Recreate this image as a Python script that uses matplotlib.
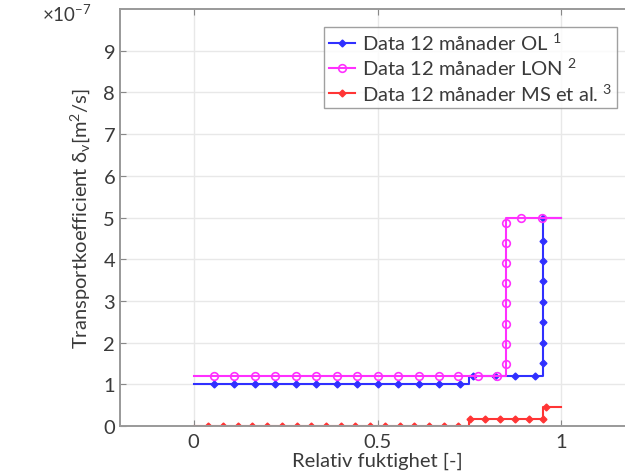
import matplotlib
matplotlib.use("Agg")
import matplotlib.pyplot as plt
from matplotlib.lines import Line2D

# ----- data (values in units of 1e-7 m2/s) -----
OL_X = [0, 0.75, 0.75, 0.95, 0.95, 1.0]
OL_Y = [1.0, 1.0, 1.2, 1.2, 5.0, 5.0]
OL_MX = [0.056, 0.111, 0.167, 0.222, 0.278, 0.334, 0.390, 0.445, 0.501, 0.557,
         0.612, 0.668, 0.724, 0.76, 0.819, 0.873, 0.929,
         0.95, 0.95, 0.95, 0.95, 0.95, 0.95, 0.95, 0.95]
OL_MY = [1.0] * 13 + [1.2] * 4 + [1.51, 1.99, 2.49, 2.98, 3.47, 3.96, 4.44, 4.99]

LON_X = [0, 0.85, 0.85, 1.0]
LON_Y = [1.2, 1.2, 5.0, 5.0]
LON_MX = [0.056, 0.111, 0.167, 0.222, 0.278, 0.334, 0.390, 0.445, 0.501, 0.557,
          0.612, 0.668, 0.719, 0.772, 0.825,
          0.85, 0.85, 0.85, 0.85, 0.85, 0.85, 0.85, 0.85, 0.891, 0.946]
LON_MY = [1.2] * 15 + [1.48, 1.96, 2.45, 2.94, 3.42, 3.90, 4.39, 4.87, 5.0, 5.0]

MS_X = [0, 0.75, 0.75, 0.95, 0.95, 1.0]
MS_Y = [0.01, 0.01, 0.16, 0.16, 0.45, 0.45]
MS_MX = [0.04, 0.08, 0.12, 0.16, 0.20, 0.24, 0.28, 0.32, 0.36, 0.40, 0.44,
         0.48, 0.52, 0.56, 0.60, 0.64, 0.68, 0.72,
         0.752, 0.792, 0.833, 0.873, 0.912, 0.95, 0.959]
MS_MY = [0.01] * 18 + [0.16] * 6 + [0.45]

LABELS = ["Data 12 månader OL $^1$", "Data 12 månader LON $^2$",
          "Data 12 månader MS et al. $^3$"]
SCALE = 1e-7
# -----------------------------------------------

plt.rcParams["font.family"] = ["Lato", "DejaVu Sans"]
plt.rcParams["mathtext.fontset"] = "custom"
plt.rcParams["mathtext.rm"] = "Lato"
plt.rcParams["mathtext.it"] = "Lato"

BLUE = "#3030ff"
PINK = "#ff30ff"
RED = "#ff3535"
TXT = "#3a3a3a"

fig = plt.figure(figsize=(6.25, 4.77), dpi=100)
ax = fig.add_axes([0.192, 0.1048, 0.824, 0.874])


def sc(vals):
    return [v * SCALE for v in vals]


ax.plot(OL_X, sc(OL_Y), color=BLUE, lw=1.5)
ax.plot(OL_MX, sc(OL_MY), ls="none", marker="D", ms=3.5, color=BLUE)
ax.plot(LON_X, sc(LON_Y), color=PINK, lw=1.5)
ax.plot(LON_MX, sc(LON_MY), ls="none", marker="o", ms=5.5, mfc="none",
        mec=PINK, mew=1.2)
ax.plot(MS_X, sc(MS_Y), color=RED, lw=1.5)
ax.plot(MS_MX, sc(MS_MY), ls="none", marker="D", ms=3.5, color=RED)

ax.set_xlim(-0.2, 1.2)
ax.set_ylim(0, 10 * SCALE)
ax.set_xticks([0, 0.5, 1])
ax.set_xticklabels(["0", "0.5", "1"])
ax.set_yticks([i * SCALE for i in range(10)])
ax.set_yticklabels([str(i) for i in range(10)])
ax.tick_params(axis="both", direction="in", length=4, color="#888888",
               labelsize=14.5, labelcolor=TXT, top=True)
ax.tick_params(axis="x", pad=5)
ax.grid(True, color="#e8e8e8", lw=1)
ax.set_axisbelow(True)
for side in ["left", "bottom", "top"]:
    ax.spines[side].set_color("#999999")
    ax.spines[side].set_linewidth(1.4)
ax.spines["right"].set_visible(False)

ax.set_xlabel("Relativ fuktighet [-]", fontsize=14.5, color=TXT, labelpad=1)
ax.set_ylabel(r"Transportkoefficient $\delta_{\mathrm{v}}$[m$^2$/s]",
              fontsize=14.5, color=TXT, labelpad=8)
fig.text(0.068, 0.955, r"×10$^{-7}$", fontsize=13.5, color=TXT)

handles = [
    Line2D([], [], color=BLUE, lw=1.5, marker="D", ms=3.5),
    Line2D([], [], color=PINK, lw=1.5, marker="o", ms=5.5, mfc="none", mew=1.2),
    Line2D([], [], color=RED, lw=1.5, marker="D", ms=3.5),
]
leg = fig.legend(handles, LABELS, loc="upper left",
                 bbox_to_anchor=(0.518, 0.942), fontsize=14.5,
                 frameon=True, fancybox=False, handlelength=1.3,
                 handletextpad=0.35, borderpad=0.25, labelspacing=0.2,
                 borderaxespad=0)
leg.get_frame().set_edgecolor("#888888")
leg.get_frame().set_linewidth(1.0)
for t in leg.get_texts():
    t.set_color(TXT)

fig.savefig("out.png", dpi=100)
